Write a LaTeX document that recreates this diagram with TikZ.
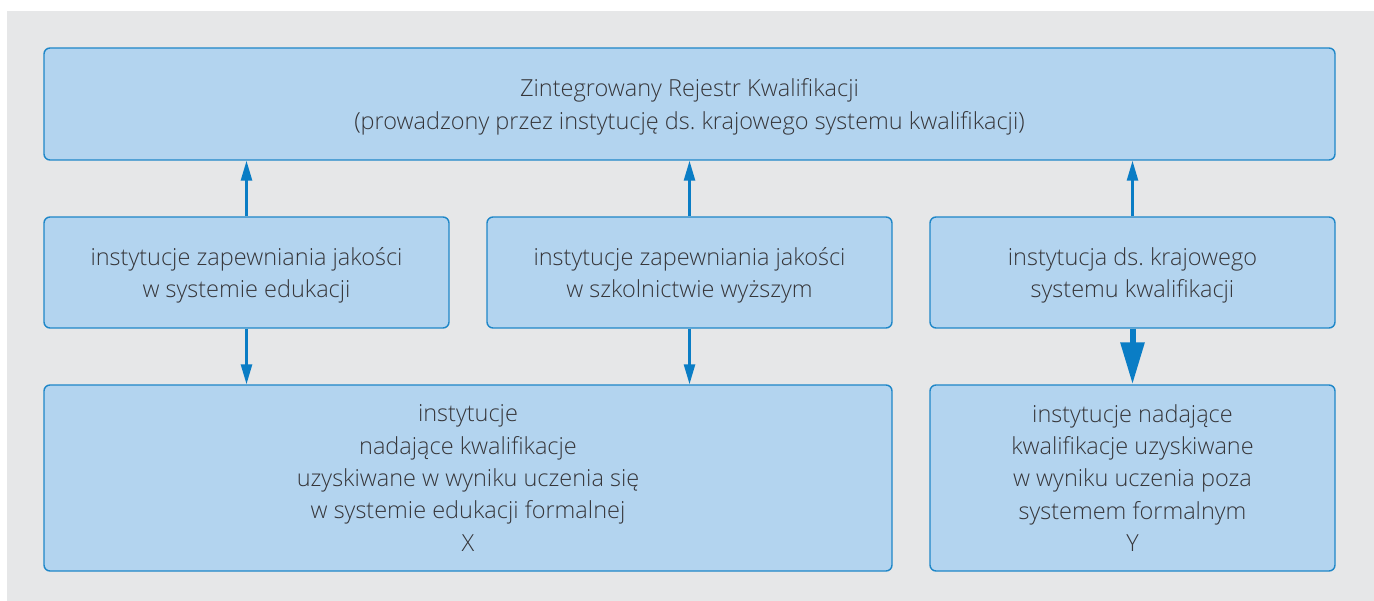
\documentclass[tikz,border=0pt]{standalone}
\usepackage{fontspec}
\setmainfont{Open Sans}[UprightFont=* Light]
\usetikzlibrary{arrows.meta}
\definecolor{bgray}{HTML}{E6E7E8}
\definecolor{bfill}{HTML}{B3D4EF}
\definecolor{bline}{HTML}{1F87C8}
\definecolor{arr}{HTML}{0A7DC5}
\definecolor{txt}{HTML}{36363A}
\newcommand{\lowstrut}{\rule{0pt}{23.5pt}}
\tikzset{
  box/.style={draw=bline, line width=1.4pt, fill=bfill, rounded corners=6pt,
    align=center, text=txt, font=\frenchspacing\fontsize{23.5}{32.3}\selectfont, inner sep=0pt},
  thinarr/.style={draw=arr, line width=2.6pt, -{Triangle[length=20pt,width=11pt]}},
  thickarr/.style={draw=arr, line width=6pt, -{Triangle[length=42pt,width=23pt]}}
}
\begin{document}
\begin{tikzpicture}[x=1pt,y=-1pt]
\useasboundingbox (0,0) rectangle (1374,601);
\fill[white] (0,0) rectangle (1374,601);
\fill[bgray] (7,11) rectangle (1374,601);
\node[box, minimum width=1291pt, minimum height=112pt] (top) at (689.5,104)
  {\lowstrut Zintegrowany Rejestr Kwalifikacji\\(prowadzony przez instytucję ds. krajowego systemu kwalifikacji)};
\node[box, minimum width=405pt, minimum height=111pt] (ml) at (246.5,272.5)
  {\lowstrut instytucje zapewniania jakości\\w systemie edukacji};
\node[box, minimum width=405pt, minimum height=111pt] (mc) at (689.5,272.5)
  {\lowstrut instytucje zapewniania jakości\\w szkolnictwie wyższym};
\node[box, minimum width=405pt, minimum height=111pt] (mr) at (1132.5,272.5)
  {\lowstrut instytucja ds. krajowego\\systemu kwalifikacji};
\node[box, minimum width=848pt, minimum height=186pt] (bl) at (468,478)
  {instytucje\\nadające kwalifikacje\\uzyskiwane w wyniku uczenia się\\w systemie edukacji formalnej\\X};
\node[box, minimum width=405pt, minimum height=186pt] (br) at (1132.5,478)
  {instytucje nadające\\kwalifikacje uzyskiwane\\w wyniku uczenia poza\\systemem formalnym\\Y};
\draw[thinarr] (ml.north) -- (ml.north |- top.south);
\draw[thinarr] (mc.north) -- (mc.north |- top.south);
\draw[thinarr] (mr.north) -- (mr.north |- top.south);
\draw[thinarr] (ml.south) -- (ml.south |- bl.north);
\draw[thinarr] (mc.south) -- (mc.south |- bl.north);
\draw[thickarr] (mr.south) -- (br.north);
\end{tikzpicture}
\end{document}
